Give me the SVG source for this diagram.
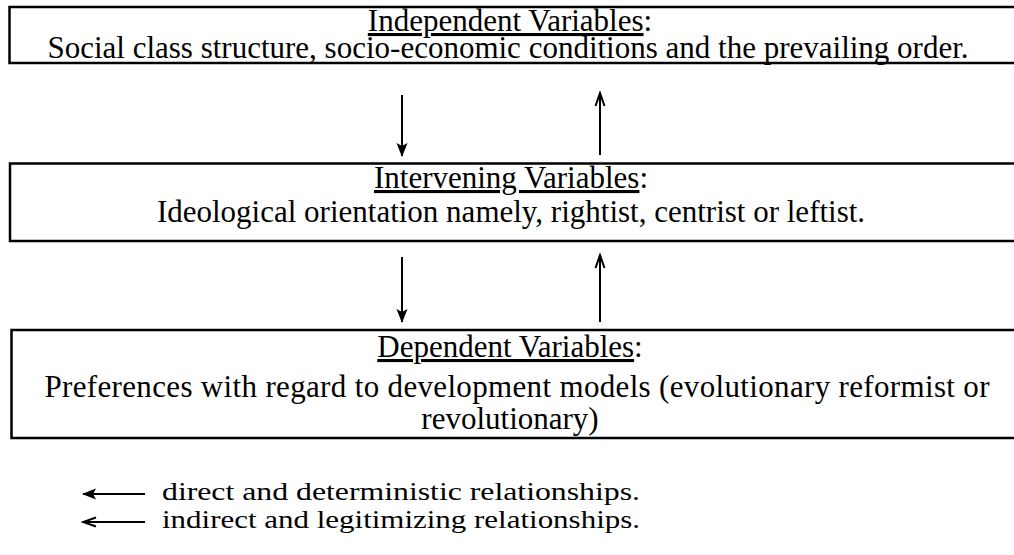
<svg xmlns="http://www.w3.org/2000/svg" width="1014" height="555" viewBox="0 0 1014 555">
<style>
.box{fill:#fff;stroke:#000;stroke-width:2.5}
.t{font-family:"Liberation Serif","Times New Roman",serif;font-size:31px;fill:#000;text-anchor:middle}
.lg{font-family:"Liberation Serif","Times New Roman",serif;font-size:25px;fill:#000}
.u{text-decoration:underline}
.c{stroke:#000;stroke-width:2;fill:none}
</style>
<defs>
<marker id="filled" markerWidth="14" markerHeight="12" refX="13" refY="6" orient="auto" markerUnits="userSpaceOnUse">
<path d="M0,0.5 L14,6 L0,11.5 L3,6 Z" fill="#000"/>
</marker>
<marker id="open" markerWidth="16" markerHeight="12" refX="14" refY="6" orient="auto" markerUnits="userSpaceOnUse">
<path d="M1,1.5 L14,6 L1,10.5" fill="none" stroke="#000" stroke-width="2"/>
</marker>
</defs>
<rect width="1014" height="555" fill="#fff"/>
<g id="independent">
<rect class="box" x="9.5" y="7" width="1010" height="56"/>
<text class="t" x="510" y="31"><tspan class="u">Independent Variables</tspan>:</text>
<text class="t" x="508" y="58">Social class structure, socio-economic conditions and the prevailing order.</text>
</g>
<g id="intervening">
<rect class="box" x="10" y="163.5" width="1010" height="77.5"/>
<text class="t" x="511" y="188"><tspan class="u">Intervening Variables</tspan>:</text>
<text class="t" x="511" y="222">Ideological orientation namely, rightist, centrist or leftist.</text>
</g>
<g id="dependent">
<rect class="box" x="11.5" y="330" width="1010" height="108"/>
<text class="t" x="510" y="357"><tspan class="u">Dependent Variables</tspan>:</text>
<text class="t" x="517" y="397" textLength="945">Preferences with regard to development models (evolutionary reformist or</text>
<text class="t" x="510" y="429">revolutionary)</text>
</g>
<g id="connectors">
<line class="c" x1="402" y1="95" x2="402" y2="156" marker-end="url(#filled)"/>
<line class="c" x1="600" y1="155" x2="600" y2="93" marker-end="url(#open)"/>
<line class="c" x1="402" y1="257" x2="402" y2="322" marker-end="url(#filled)"/>
<line class="c" x1="600" y1="322" x2="600" y2="255" marker-end="url(#open)"/>
</g>
<g id="legend">
<line class="c" x1="145" y1="494" x2="83" y2="494" marker-end="url(#filled)"/>
<text class="lg" x="162" y="500" textLength="478" lengthAdjust="spacingAndGlyphs">direct and deterministic relationships.</text>
<line class="c" x1="145" y1="522" x2="83" y2="522" marker-end="url(#open)"/>
<text class="lg" x="162" y="528" textLength="478" lengthAdjust="spacingAndGlyphs">indirect and legitimizing relationships.</text>
</g>
</svg>
